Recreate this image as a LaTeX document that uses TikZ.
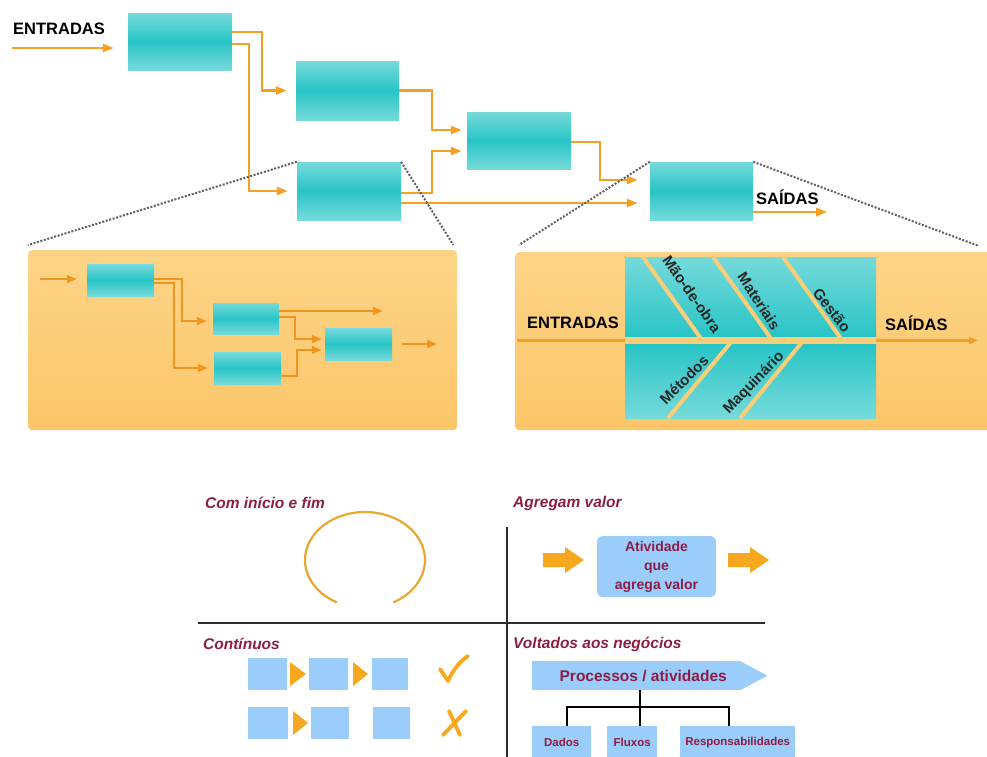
\documentclass[tikz,border=0pt]{standalone}
\usepackage{fontspec}
\setmainfont{Liberation Sans}
\usetikzlibrary{arrows.meta}

\definecolor{tealL}{RGB}{118,218,218}
\definecolor{tealD}{RGB}{40,196,198}
\definecolor{flowc}{RGB}{245,160,35}
\definecolor{flowd}{RGB}{240,150,30}
\definecolor{panelT}{RGB}{253,212,135}
\definecolor{panelB}{RGB}{251,198,105}
\definecolor{bonec}{RGB}{250,205,120}
\definecolor{dotc}{RGB}{95,95,105}
\definecolor{maroon}{RGB}{140,30,70}
\definecolor{lblue}{RGB}{155,205,250}
\definecolor{arcc}{RGB}{232,168,45}
\definecolor{blockc}{RGB}{247,168,30}
\definecolor{rulec}{RGB}{45,45,45}

\begin{document}
\begin{tikzpicture}[x=1pt,y=-1pt,
  tealbox/.style={inner sep=0pt, top color=tealL, bottom color=tealL, middle color=tealD},
  flow/.style={draw=flowc, line width=2.8pt, -{Triangle[length=11pt,width=8pt]}},
  subflow/.style={draw=flowd, line width=2.5pt, -{Triangle[length=10pt,width=7.5pt]}},
  zoomline/.style={draw=dotc, line width=2pt, dash pattern=on 2pt off 1.6pt},
  panel/.style={inner sep=0pt, rounded corners=4pt, top color=panelT, bottom color=panelB},
  caps/.style={font=\fontsize{16.5}{18}\selectfont\bfseries, text=black, inner sep=0pt},
  bone/.style={draw=bonec, line width=4pt},
  bonelbl/.style={font=\fontsize{15}{17}\selectfont\bfseries, text=black!85, inner sep=0pt},
  heading/.style={font=\fontsize{15.5}{18}\selectfont\bfseries\itshape, text=maroon, inner sep=0pt, anchor=west},
  bluebox/.style={fill=lblue, inner sep=0pt},
  divider/.style={draw=rulec, line width=2pt},
  treeline/.style={draw=black, line width=2.2pt},
  tickmark/.style={draw=blockc, line width=3.8pt, line cap=round, line join=round},
]
\useasboundingbox (0,0) rectangle (987,756);

% ---------- zoom panels ----------
\node[panel, minimum width=429pt, minimum height=180pt, anchor=north west] (PL) at (28,250) {};
\node[panel, minimum width=480pt, minimum height=178pt, anchor=north west] (PR) at (515,252) {};

% ---------- main process chain ----------
\node[tealbox, minimum width=104pt, minimum height=57pt] (A) at (180,41.5) {};
\node[tealbox, minimum width=103pt, minimum height=59pt] (B) at (347.5,90.5) {};
\node[tealbox, minimum width=104pt, minimum height=58pt] (C) at (349,191) {};
\node[tealbox, minimum width=104pt, minimum height=57pt] (D) at (519,140.5) {};
\node[tealbox, minimum width=103pt, minimum height=58pt] (E) at (701.5,191) {};

\node[caps, anchor=west] (ent) at (13,29) {ENTRADAS};
\coordinate (inA) at (12,48);
\draw[flow, shorten >=14pt] (inA) -- (inA -| A.west);

\draw[flow, shorten >=9pt] (A.east |- 0,32) -- (262,32) |- (B.west);
\draw[flow, shorten >=9pt] (A.east |- 0,44) -- (249,44) |- (C.west);
\draw[flow, shorten >=5pt] (B.east) -- (432,90.5) |- (D.west |- 0,130);
\draw[flow, shorten >=5pt] (C.east |- 0,193) -- (432,193) |- (D.west |- 0,151);
\draw[flow, shorten >=12pt] (C.east |- 0,203) -- (E.west |- 0,203);
\draw[flow, shorten >=12pt] (D.east |- 0,142) -- (600,142) |- (E.west |- 0,180);
\draw[flow] (E.east |- 0,212) -- ++(74,0);
\node[caps, anchor=west] (sai) at (756,197) {SAÍDAS};

% ---------- zoom guides ----------
\coordinate (zr) at (979,246);
\draw[zoomline] (C.north west) -- ([yshift=5pt]PL.north west);
\draw[zoomline] (C.north east) -- ([xshift=-4pt,yshift=5pt]PL.north east);
\draw[zoomline] (E.north west) -- ([xshift=4pt,yshift=7pt]PR.north west);
\draw[zoomline] (E.north east) -- (zr);

% ---------- left panel: sub-process ----------
\node[tealbox, minimum width=67pt, minimum height=32pt] (a1) at (120.5,280) {};
\node[tealbox, minimum width=66pt, minimum height=31pt] (a2) at (246,318.5) {};
\node[tealbox, minimum width=67pt, minimum height=32pt] (a3) at (247.5,368) {};
\node[tealbox, minimum width=67pt, minimum height=32pt] (a4) at (358.5,344) {};
\coordinate (pin) at (40,279);
\draw[subflow, shorten >=10pt] (pin) -- (pin -| a1.west);
\draw[subflow, shorten >=6pt] (a1.east |- 0,279) -- (182,279) |- (a2.west |- 0,321);
\draw[subflow, shorten >=6pt] (a1.east |- 0,283) -- (174,283) |- (a3.west);
\draw[subflow] (a2.east |- 0,311) -- (383,311);
\draw[subflow, shorten >=3pt] (a2.east |- 0,317) -- (295,317) |- (a4.west |- 0,339);
\draw[subflow, shorten >=3pt] (a3.east |- 0,376) -- (297,376) |- (a4.west |- 0,350);
\draw[subflow] ([xshift=10pt]a4.east) -- ++(35,0);

% ---------- right panel: cause and effect ----------
\shade[top color=tealL, bottom color=tealD] (625,257) rectangle (876,337);
\shade[top color=tealD, bottom color=tealL] (625,344) rectangle (876,418);
\fill[bonec] (625,337) rectangle (876,344);
\draw[bone] (643,257) -- (702,340);
\draw[bone] (713,257) -- (772,340);
\draw[bone] (783,257) -- (842,340);
\draw[bone] (732,341) -- (668,418);
\draw[bone] (803,341) -- (740,418);
\coordinate (fl) at (517,340.5);
\coordinate (fr) at (978,340.5);
\draw[draw=flowc, line width=2.2pt] (fl) -- (625,340.5);
\draw[draw=flowc, line width=2.2pt, -{Triangle[length=9pt,width=7pt]}] (876,340.5) -- (fr);
\node[caps, anchor=west] (ent2) at (527,323) {ENTRADAS};
\node[caps, anchor=west] (sai2) at (885,323) {SAÍDAS};
\node[bonelbl, rotate=-55] (l1) at (692,294) {Mão-de-obra};
\node[bonelbl, rotate=-57] (l2) at (759,301) {Materiais};
\node[bonelbl, rotate=-52] (l3) at (832,310) {Gestão};
\node[bonelbl, rotate=45] (l4) at (684,380) {Métodos};
\node[bonelbl, rotate=46] (l5) at (754,383) {Maquinário};

% ---------- characteristics quadrants ----------
\draw[divider] (198,623) -- (765,623);
\draw[divider] (507,527) -- (507,760);
\node[heading] (h1) at (205,503) {Com início e fim};
\node[heading] (h2) at (513,503) {Agregam valor};
\node[heading] (h3) at (203,644) {Contínuos};
\node[heading] (h4) at (513,644) {Voltados aos negócios};

% start and end
\coordinate (loop) at (365,560);
\draw[arcc, line width=2.2pt] (loop) ++(118:60 and 48) arc[start angle=118, end angle=422, x radius=60, y radius=48];

% value adding activity
\node[bluebox, rounded corners=6pt, minimum width=119pt, minimum height=61pt, align=center, text=maroon,
      font=\fontsize{14}{19}\selectfont\bfseries] (act) at (656.5,566.5) {Atividade\\que\\agrega valor};
\fill[blockc] (543,553) -- (565,553) -- (565,547) -- (584,560) -- (565,573) -- (565,567) -- (543,567) -- cycle;
\fill[blockc] (728,553) -- (750,553) -- (750,547) -- (769,560) -- (750,573) -- (750,567) -- (728,567) -- cycle;

% continuous flow
\node[bluebox, minimum width=39pt, minimum height=32pt, anchor=north west] (s1) at (248,658) {};
\node[bluebox, minimum width=39pt, minimum height=32pt, anchor=north west] (s2) at (309,658) {};
\node[bluebox, minimum width=36pt, minimum height=32pt, anchor=north west] (s3) at (372,658) {};
\node[bluebox, minimum width=40pt, minimum height=32pt, anchor=north west] (t1) at (248,707) {};
\node[bluebox, minimum width=38pt, minimum height=32pt, anchor=north west] (t2) at (311,707) {};
\node[bluebox, minimum width=37pt, minimum height=32pt, anchor=north west] (t3) at (373,707) {};
\fill[blockc] (290,662) -- (306,674) -- (290,686) -- cycle;
\fill[blockc] (353,662) -- (368,674) -- (353,686) -- cycle;
\fill[blockc] (293,711) -- (308,723) -- (293,735) -- cycle;
\draw[tickmark] (440,669) -- (448,681) .. controls (453,670) and (460,661) .. (468,656);
\draw[tickmark] (449,711) -- (460,735);
\draw[tickmark] (466,711) -- (443,735);

% business oriented
\node[bluebox, minimum width=208pt, minimum height=29pt, anchor=north west, text=maroon,
      font=\fontsize{15.5}{18}\selectfont\bfseries] (proc) at (532,661) {\hspace*{14pt}Processos / atividades};
\fill[lblue] ([xshift=-0.5pt]proc.north east) -- ([xshift=27pt]proc.east) -- ([xshift=-0.5pt]proc.south east) -- cycle;
\node[bluebox, minimum width=59pt, minimum height=32pt, anchor=north west, text=maroon,
      font=\fontsize{11.5}{13}\selectfont\bfseries] (dados) at (532,726) {Dados};
\node[bluebox, minimum width=50pt, minimum height=32pt, anchor=north west, text=maroon,
      font=\fontsize{11.5}{13}\selectfont\bfseries] (fluxos) at (607,726) {Fluxos};
\node[bluebox, minimum width=115pt, minimum height=32pt, anchor=north west, text=maroon,
      font=\fontsize{11.5}{13}\selectfont\bfseries] (resp) at (680,726) {Responsabilidades};
\coordinate (tj) at (640,707);
\coordinate (tl) at (567,707);
\coordinate (tr) at (729,707);
\draw[treeline] (proc.south -| tj) -- (tj);
\draw[treeline] (dados.north -| tl) -- (tl) -- (tr) -- (resp.north -| tr);
\draw[treeline] (tj) -- (fluxos.north -| tj);
\end{tikzpicture}
\end{document}
